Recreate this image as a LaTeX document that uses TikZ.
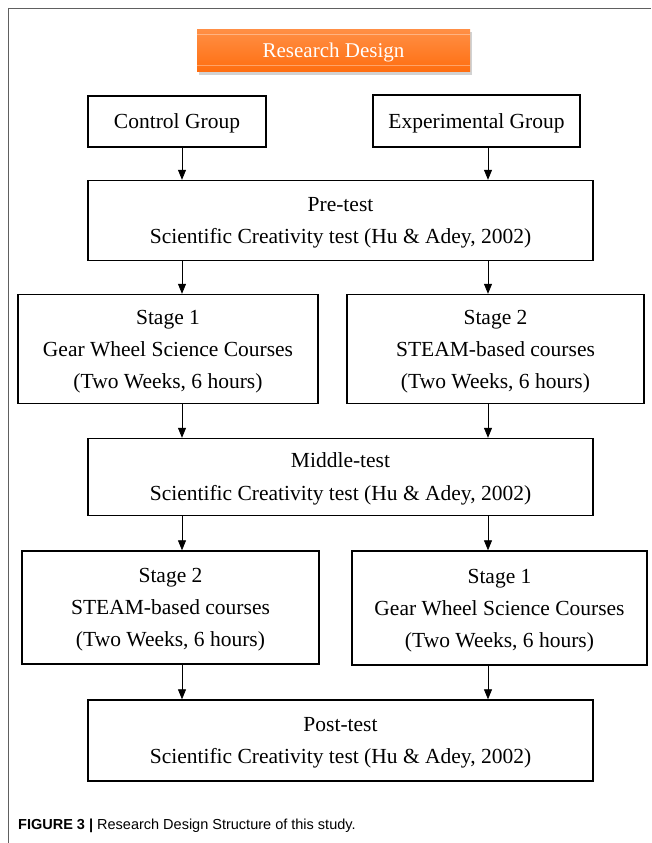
\documentclass[tikz,border=0pt]{standalone}
\usepackage{fontspec}
\setmainfont{Liberation Serif}
\setsansfont{Liberation Sans}
\usetikzlibrary{arrows.meta,shadows}
\definecolor{headtop}{HTML}{FF8F45}
\definecolor{headbot}{HTML}{FF6E10}
\definecolor{framegray}{HTML}{606060}
\tikzset{
    box/.style = {
        draw = black,
        line width = 1.4pt,
        inner sep = 0pt,
        align = center,
        text depth = -8pt,
        font = \fontsize{21.5}{32}\selectfont
    },
    arr/.style = {
        -{Triangle[length=10pt,width=8pt]},
        line width = 0.8pt
    }
}
\begin{document}
\begin{tikzpicture}[x=1pt,y=-1pt]
            \useasboundingbox (0,0) rectangle (651,843);
            \fill[white] (0,0) rectangle (651,843);
            \draw[framegray, line width=1.8pt] (8,8.5) -- (651,8.5);
            \draw[framegray, line width=1pt] (8.5,8) -- (8.5,843);
            \node[
                minimum width = 273pt,
                minimum height = 42pt,
                top color = headtop,
                bottom color = headbot,
                drop shadow = {shadow xshift=2pt, shadow yshift=-3pt, opacity=0.35},
                text = white,
                text depth = -3pt,
                font = \fontsize{21}{24}\selectfont
            ] (title) at (333.5,50.5) {Research Design};
            \draw[white, opacity=0.35, line width=1pt] ([yshift=-5pt]title.north west) -- ([yshift=-5pt]title.north east);
            \draw[white, opacity=0.35, line width=1pt] ([yshift=6pt]title.south west) -- ([yshift=6pt]title.south east);
            \node[box, minimum width=178pt, minimum height=51pt] (ctrl) at (177,121.5) {Control Group};
            \node[box, minimum width=207pt, minimum height=52pt] (expt) at (476.5,121) {Experimental Group};
            \node[box, minimum width=505pt, minimum height=80pt] (pre) at (340.5,220.5) {Pre-test\\Scientific Creativity test (Hu \& Adey, 2002)};
            \node[box, minimum width=300pt, minimum height=109pt] (stA) at (168,349) {Stage 1\\Gear Wheel Science Courses\\(Two Weeks, 6 hours)};
            \node[box, minimum width=297pt, minimum height=109pt] (stB) at (495.5,349) {Stage 2\\STEAM-based courses\\(Two Weeks, 6 hours)};
            \node[box, minimum width=505pt, minimum height=77pt] (mid) at (340.5,477) {Middle-test\\[1pt]Scientific Creativity test (Hu \& Adey, 2002)};
            \node[box, minimum width=297pt, minimum height=113pt] (stC) at (170.5,607.5) {Stage 2\\STEAM-based courses\\(Two Weeks, 6 hours)};
            \node[box, minimum width=295pt, minimum height=114pt] (stD) at (499.5,608) {Stage 1\\Gear Wheel Science Courses\\(Two Weeks, 6 hours)};
            \node[box, minimum width=505pt, minimum height=81pt] (post) at (340.5,740.5) {Post-test\\Scientific Creativity test (Hu \& Adey, 2002)};
            \coordinate (colL) at (182,0);
            \coordinate (colR) at (488,0);
            \draw[arr] (ctrl.south -| colL) -- (pre.north -| colL);
            \draw[arr] (expt.south -| colR) -- (pre.north -| colR);
            \draw[arr] (pre.south -| colL) -- (stA.north -| colL);
            \draw[arr] (pre.south -| colR) -- (stB.north -| colR);
            \draw[arr] (stA.south -| colL) -- (mid.north -| colL);
            \draw[arr] (stB.south -| colR) -- (mid.north -| colR);
            \draw[arr] (mid.south -| colL) -- (stC.north -| colL);
            \draw[arr] (mid.south -| colR) -- (stD.north -| colR);
            \draw[arr] (stC.south -| colL) -- (post.north -| colL);
            \draw[arr] (stD.south -| colR) -- (post.north -| colR);
            \node[
                anchor = west,
                inner sep = 0pt,
                font = \sffamily\fontsize{14.5}{17}\selectfont
            ] (caption) at (18,826) {\textbf{FIGURE 3 |} Research Design Structure of this study.};
        \end{tikzpicture}
\end{document}
